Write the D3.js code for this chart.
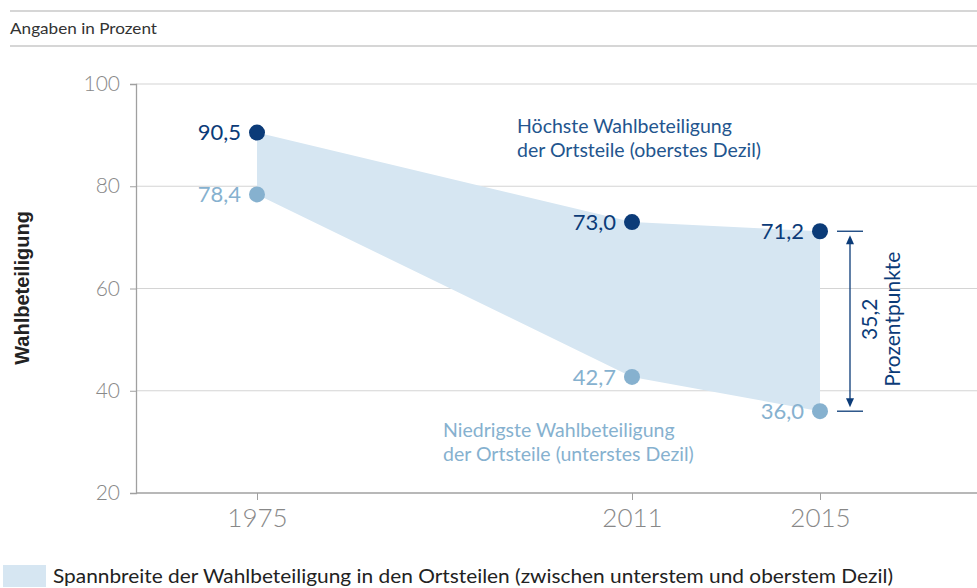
<!DOCTYPE html>
<html>
<head>
<meta charset="utf-8">
<script src="https://cdn.jsdelivr.net/npm/d3@7"></script>
<style>
  body { margin: 0; background: #fff; }
  text { font-family: Lato, "Open Sans", sans-serif; }
</style>
</head>
<body>
<svg id="chart" width="977" height="588"></svg>
<script>
// data
var years = [1975, 2011, 2015];
var highest = [90.5, 73.0, 71.2];
var lowest = [78.4, 42.7, 36.0];
var yTicks = [20, 40, 60, 80, 100];
var fmt = function(v) { return d3.format(".1f")(v).replace(".", ","); };

var svg = d3.select("#chart");
var navy = "#0b3b78", light = "#86b1cf", band = "#d6e6f2";

// header lines
svg.append("line").attr("x1", 10).attr("x2", 977).attr("y1", 11).attr("y2", 11)
   .attr("stroke", "#c8c8c8").attr("stroke-width", 1.5);
svg.append("line").attr("x1", 10).attr("x2", 977).attr("y1", 46).attr("y2", 46)
   .attr("stroke", "#c8c8c8").attr("stroke-width", 1.5);
svg.append("text").attr("x", 10).attr("y", 34).attr("font-size", 15)
   .attr("textLength", 147).attr("lengthAdjust", "spacingAndGlyphs")
   .attr("fill", "#333").text("Angaben in Prozent");

var x = d3.scaleLinear().domain(years).range([257, 632, 820]);
var y = d3.scaleLinear().domain([20, 100]).range([493, 84]);
var left = 136, right = 977;

// grid
svg.append("g").selectAll("line").data(yTicks.slice(1)).enter().append("line")
   .attr("x1", left).attr("x2", right)
   .attr("y1", function(d) { return y(d); }).attr("y2", function(d) { return y(d); })
   .attr("stroke", "#d4d4d4").attr("stroke-width", 1.2);

// y axis
var yAxis = svg.append("g").attr("transform", "translate(" + left + ",0)")
   .call(d3.axisLeft(y).tickValues(yTicks).tickSize(6).tickPadding(10));
yAxis.select(".domain").attr("stroke", "#a0a0a0").attr("stroke-width", 1.3);
yAxis.selectAll(".tick line").attr("stroke", "#a0a0a0");
yAxis.selectAll("text").attr("font-size", 21).attr("font-weight", 300)
   .attr("fill", "#888").style("font-family", "Lato");

// x axis
var xAxis = svg.append("g").attr("transform", "translate(0," + y(20) + ")")
   .call(d3.axisBottom(x).tickValues(years).tickFormat(d3.format("d")).tickSize(7).tickPadding(9));
xAxis.select(".domain").remove();
xAxis.append("line").attr("x1", left).attr("x2", right).attr("stroke", "#a0a0a0").attr("stroke-width", 1.5);
xAxis.selectAll(".tick line").attr("stroke", "#a0a0a0");
xAxis.selectAll("text").attr("font-size", 26).attr("font-weight", 300)
   .attr("fill", "#888").style("font-family", "Lato");

// axis title
svg.append("text").attr("transform", "translate(29,288) rotate(-90)")
   .attr("text-anchor", "middle").attr("font-size", 20).attr("font-weight", 700)
   .style("font-family", "'Liberation Sans', Arial, sans-serif")
   .attr("fill", "#222").text("Wahlbeteiligung");

// band
var rows = years.map(function(d, i) { return { year: d, hi: highest[i], lo: lowest[i] }; });
var area = d3.area()
   .x(function(d) { return x(d.year); })
   .y0(function(d) { return y(d.lo); })
   .y1(function(d) { return y(d.hi); });
svg.append("path").datum(rows).attr("d", area).attr("fill", band);

// dots and labels
[[highest, navy], [lowest, light]].forEach(function(s) {
  var g = svg.append("g");
  g.selectAll("circle").data(s[0]).enter().append("circle")
    .attr("cx", function(d, i) { return x(years[i]); })
    .attr("cy", function(d) { return y(d); })
    .attr("r", 8).attr("fill", s[1]);
  g.selectAll("text").data(s[0]).enter().append("text")
    .attr("x", function(d, i) { return x(years[i]) - 16; })
    .attr("y", function(d) { return y(d); })
    .attr("dy", "0.36em").attr("text-anchor", "end")
    .attr("font-size", 22).attr("fill", s[1]).text(fmt);
});

// annotations
var hiNote = svg.append("text").attr("x", 517).attr("y", 133).attr("font-size", 19.5).attr("fill", "#23558e");
hiNote.append("tspan").attr("x", 517).text("Höchste Wahlbeteiligung");
hiNote.append("tspan").attr("x", 517).attr("dy", 24).text("der Ortsteile (oberstes Dezil)");
var loNote = svg.append("text").attr("x", 443).attr("y", 437).attr("font-size", 19.5).attr("fill", light);
loNote.append("tspan").attr("x", 443).text("Niedrigste Wahlbeteiligung");
loNote.append("tspan").attr("x", 443).attr("dy", 24).text("der Ortsteile (unterstes Dezil)");

// difference bracket
var bx = 850, yHi = y(highest[2]), yLo = y(lowest[2]);
var br = svg.append("g").attr("stroke", navy).attr("stroke-width", 1.3);
br.append("line").attr("x1", bx - 13).attr("x2", bx + 13).attr("y1", yHi).attr("y2", yHi);
br.append("line").attr("x1", bx - 13).attr("x2", bx + 13).attr("y1", yLo).attr("y2", yLo);
br.append("line").attr("x1", bx).attr("x2", bx).attr("y1", yHi + 8).attr("y2", yLo - 8);
svg.append("path").attr("fill", navy)
   .attr("d", "M" + bx + "," + (yHi + 4) + "l-4,9h8z");
svg.append("path").attr("fill", navy)
   .attr("d", "M" + bx + "," + (yLo - 4) + "l-4,-9h8z");
var mid = (yHi + yLo) / 2;
svg.append("text").attr("transform", "translate(877," + (mid - 2) + ") rotate(-90)")
   .attr("text-anchor", "middle").attr("font-size", 21).attr("fill", navy)
   .text(fmt(highest[2] - lowest[2]));
svg.append("text").attr("transform", "translate(900," + (mid - 2) + ") rotate(-90)")
   .attr("text-anchor", "middle").attr("font-size", 21).attr("fill", navy)
   .text("Prozentpunkte");

// legend
svg.append("rect").attr("x", 3).attr("y", 565).attr("width", 43).attr("height", 22).attr("fill", band);
svg.append("text").attr("x", 53).attr("y", 583).attr("font-size", 19.5).attr("fill", "#222")
   .attr("textLength", 840).attr("lengthAdjust", "spacingAndGlyphs")
   .text("Spannbreite der Wahlbeteiligung in den Ortsteilen (zwischen unterstem und oberstem Dezil)");
</script>
</body>
</html>
